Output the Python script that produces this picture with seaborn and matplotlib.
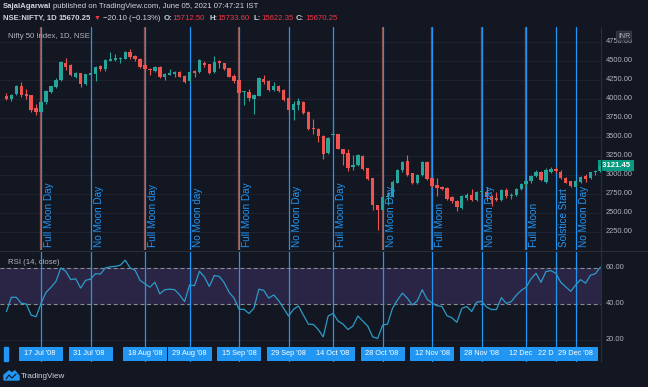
import matplotlib
matplotlib.use("Agg")
import matplotlib.pyplot as plt
import matplotlib.patches as mpatches
import matplotlib.transforms as mtrans
import numpy as np
import seaborn as sns

# ---------------- data ----------------
opens = [4040, 4000, 4060, 4174, 4065, 4052, 3878, 3826, 3957, 4096,
         4152, 4252, 4478, 4443, 4283, 4339, 4196, 4322, 4326, 4435,
         4391, 4504, 4513, 4530, 4530, 4622, 4565, 4530, 4443, 4400,
         4370, 4422, 4283, 4322, 4335, 4356, 4304, 4239, 4370, 4356,
         4478, 4457, 4356, 4500, 4470, 4404, 4304, 4248, 4087, 4096,
         4000, 4043, 4261, 4239, 4122, 4174, 4122, 4009, 3857, 3926,
         3965, 3835, 3622, 3600, 3510, 3290, 3522, 3543, 3348, 3283,
         3109, 3130, 3252, 3087, 2957, 2600, 2543, 2709, 2713, 2900,
         3065, 3183, 3022, 2900, 3000, 3174, 2957, 2870, 2839, 2826,
         2704, 2661, 2565, 2696, 2739, 2674, 2770, 2774, 2704, 2696,
         2674, 2800, 2720, 2740, 2820, 2880, 2920, 2990, 3044, 2912,
         3044, 3075, 3044, 2965, 2921, 2846, 2912, 2987, 2956, 3035,
         3050]
highs = [4080, 4070, 4190, 4226, 4130, 4052, 3935, 3965, 4122, 4174,
         4274, 4500, 4543, 4457, 4361, 4348, 4335, 4348, 4435, 4448,
         4522, 4617, 4587, 4556, 4630, 4652, 4578, 4539, 4452, 4409,
         4435, 4435, 4348, 4400, 4365, 4370, 4313, 4370, 4383, 4530,
         4500, 4465, 4565, 4513, 4478, 4413, 4335, 4252, 4109, 4130,
         4065, 4283, 4313, 4248, 4226, 4183, 4130, 4022, 3978, 4009,
         3978, 3848, 3739, 3620, 3520, 3500, 3739, 3543, 3348, 3348,
         3261, 3270, 3261, 3090, 2960, 2609, 2717, 2780, 2935, 3078,
         3183, 3261, 3030, 3009, 3183, 3183, 2965, 2957, 2857, 2839,
         2717, 2674, 2739, 2761, 2817, 2783, 2791, 2848, 2739, 2774,
         2815, 2830, 2760, 2830, 2900, 2940, 3000, 3060, 3050, 3088,
         3110, 3100, 3060, 2970, 2925, 2930, 2990, 3013, 3040, 3066,
         3130]
lows = [3985, 3975, 4050, 4022, 4000, 3835, 3791, 3817, 3935, 4078,
        4139, 4239, 4383, 4296, 4274, 4161, 4183, 4313, 4230, 4370,
        4370, 4500, 4500, 4470, 4522, 4530, 4500, 4413, 4370, 4317,
        4357, 4274, 4248, 4313, 4283, 4283, 4204, 4226, 4283, 4348,
        4426, 4335, 4348, 4413, 4383, 4283, 4204, 3957, 3926, 3978,
        3804, 4035, 4196, 4109, 4109, 4087, 3970, 3783, 3717, 3861,
        3804, 3587, 3543, 3440, 3210, 3280, 3510, 3339, 3130, 3052,
        3065, 3120, 3065, 2935, 2545, 2270, 2530, 2600, 2704, 2891,
        3043, 2991, 2883, 2883, 2991, 2935, 2839, 2717, 2804, 2674,
        2630, 2522, 2557, 2674, 2652, 2661, 2761, 2661, 2587, 2652,
        2660, 2700, 2680, 2720, 2800, 2840, 2900, 2970, 2920, 2890,
        3031, 3030, 2950, 2890, 2840, 2840, 2900, 2912, 2950, 3000,
        3040]
closes = [4000, 4055, 4170, 4052, 4043, 3861, 3826, 3957, 4109, 4165,
          4252, 4487, 4426, 4313, 4339, 4196, 4326, 4339, 4422, 4400,
          4509, 4522, 4535, 4543, 4622, 4552, 4530, 4426, 4391, 4378,
          4422, 4283, 4335, 4339, 4356, 4291, 4217, 4361, 4348, 4513,
          4443, 4348, 4487, 4470, 4391, 4291, 4230, 4078, 4100, 4009,
          4052, 4270, 4217, 4122, 4174, 4100, 3987, 3857, 3935, 3970,
          3817, 3609, 3609, 3513, 3280, 3490, 3543, 3348, 3270, 3087,
          3130, 3261, 3074, 2948, 2600, 2543, 2709, 2717, 2913, 3065,
          3165, 3000, 2900, 3000, 3174, 2948, 2857, 2826, 2817, 2687,
          2652, 2574, 2717, 2739, 2674, 2774, 2783, 2709, 2674, 2674,
          2804, 2720, 2740, 2820, 2880, 2920, 2990, 3044, 2934, 3066,
          3075, 3050, 2956, 2900, 2855, 2921, 2978, 2943, 3035, 3048,
          3121.45]
rsi = [35.7, 43.7, 43.7, 40.4, 40.0, 33.8, 32.9, 40.4, 46.4, 49.2,
       52.5, 60.0, 58.1, 53.5, 54.0, 48.8, 53.1, 53.8, 56.8, 56.6,
       60.0, 60.6, 60.9, 61.5, 64.3, 60.0, 58.7, 53.1, 51.2, 49.3,
       52.1, 45.6, 47.9, 48.2, 47.9, 45.0, 41.3, 50.5, 50.2, 58.1,
       55.0, 49.7, 55.8, 55.3, 51.8, 46.4, 43.2, 37.0, 37.0, 34.7,
       37.6, 48.2, 47.5, 43.2, 45.0, 41.9, 37.6, 33.3, 37.0, 38.9,
       33.8, 28.8, 28.6, 25.8, 21.7, 33.3, 34.8, 30.5, 28.8, 25.8,
       27.7, 33.3, 30.5, 27.7, 21.7, 20.8, 28.2, 28.8, 37.6, 42.2,
       46.0, 43.2, 39.4, 41.7, 47.9, 42.6, 40.5, 39.0, 38.6, 33.5,
       32.3, 29.8, 37.5, 38.6, 35.8, 41.0, 41.5, 38.3, 36.9, 36.9,
       43.5, 40.3, 41.3, 44.8, 47.5, 49.3, 54.0, 57.0, 52.0, 58.0,
       58.5, 57.0, 52.0, 49.5, 47.0, 50.5, 53.5, 51.5, 56.0, 56.8,
       60.5]

line_bars = [7, 17, 28, 37, 47, 57, 66, 76, 86, 96, 105, 111, 115]
line_notes = ["Full Moon Day", "No Moon Day", "Full Moon day", "No Moon day",
              "Full Moon Day", "No Moon Day", "Full Moon Day", "No Moon Day",
              "Full Moon", "No Moon Day", "Full Moon", "Solstice Start",
              "No Moon Day"]
# the 12 Dec and 22 Dec labels are cut off by the next label in the screenshot
line_dates = ["17 Jul '08", "31 Jul '08", "18 Aug '08", "29 Aug '08",
              "15 Sep '08", "29 Sep '08", "14 Oct '08", "28 Oct '08",
              "12 Nov '08", "28 Nov '08", "12 Dec", "22 D",
              "29 Dec '08"]
red_edge = [7, 28, 47, 76, 86, 96, 105]

price_ticks = [2250, 2500, 2750, 3000, 3250, 3500, 3750, 4000, 4250, 4500, 4750]
rsi_ticks = [20, 40, 60]
last_price = 3121.45

# ---------------- style ----------------
BG = "#131722"
GRID = "#1f2330"
TXT = "#b2b5be"
UP = "#26a69a"
DOWN = "#ef5350"
BLUE = "#2196f3"

sns.set_theme(style="dark", rc={"axes.facecolor": BG, "figure.facecolor": BG})
plt.rcParams["font.family"] = ["Liberation Sans", "DejaVu Sans"]

W, H = 648, 387
fig = plt.figure(figsize=(W / 100, H / 100), dpi=100)
fig.patch.set_facecolor(BG)


def px_axes(left, top, right, bottom):
    a = fig.add_axes([left / W, 1 - bottom / H, (right - left) / W, (bottom - top) / H])
    a.set_facecolor(BG)
    for s in a.spines.values():
        s.set_visible(False)
    a.set_xticks([])
    a.set_yticks([])
    a.grid(False)
    return a


X_RIGHT = 601
BAR_PX = 4.95
X0_PX = 6.4
xlim = (-X0_PX / BAR_PX, (X_RIGHT - X0_PX) / BAR_PX)

ax_p = px_axes(0, 27, X_RIGHT, 250)
ax_r = px_axes(0, 251, X_RIGHT, 345)
ax_t = px_axes(0, 345, X_RIGHT, 362)
for a in (ax_p, ax_r, ax_t):
    a.set_xlim(*xlim)
ax_p.set_ylim(2013, 4947)
ax_r.set_ylim(17.2, 69.4)
ax_t.set_ylim(0, 1)

idx = np.arange(len(closes))
o = np.array(opens, float)
h = np.array(highs, float)
l = np.array(lows, float)
c = np.array(closes, float)

# grid
for p in price_ticks:
    ax_p.axhline(p, color=GRID, lw=0.7, zorder=0)
for r in rsi_ticks:
    ax_r.axhline(r, color=GRID, lw=0.7, zorder=0)

# vertical event lines
for b in line_bars:
    if b in red_edge:
        ax_p.axvline(b - 0.14, color="#9a4a3a", lw=0.9, zorder=1)
    for a in (ax_p, ax_r, ax_t):
        a.axvline(b, color=BLUE, lw=0.9, zorder=2)

# candles
cols = np.where(c >= o, UP, DOWN)
ax_p.vlines(idx, l, h, colors=cols, lw=0.8, zorder=3)
body = np.where(np.abs(c - o) < 9, 9, np.abs(c - o))
ax_p.bar(idx, body, bottom=np.minimum(o, c), width=0.68, color=cols, lw=0, zorder=4)

# event notes
shift = mtrans.ScaledTranslation(3 / 100, 0, fig.dpi_scale_trans)
note_tr = mtrans.blended_transform_factory(ax_p.transData, ax_p.transAxes) + shift
for b, n in zip(line_bars, line_notes):
    ax_p.text(b, 0.012, n, rotation=90, ha="left", va="bottom", color=BLUE,
              fontsize=7.2, transform=note_tr, zorder=5)

ax_p.text(8 / X_RIGHT, 1 - 10 / 223, "Nifty 50 Index, 1D, NSE", transform=ax_p.transAxes,
          color=TXT, fontsize=5.6, va="center", ha="left")

# RSI pane
ax_r.axhspan(40, 60, color="#7e57c2", alpha=0.22, lw=0, zorder=0)
for r in (40, 60):
    ax_r.axhline(r, color="#8a8d96", lw=0.8, ls=(0, (3.5, 2.5)), zorder=1)
sns.lineplot(x=idx, y=rsi, ax=ax_r, color="#2b9bc8", lw=0.9, zorder=6)
ax_r.set_xlabel("")
ax_r.set_ylabel("")
ax_r.set_xlim(*xlim)
ax_r.set_ylim(17.2, 69.4)
ax_r.set_xticks([])
ax_r.set_yticks([])
ax_r.text(8 / X_RIGHT, 1 - 11 / 94, "RSI (14, close)", transform=ax_r.transAxes,
          color=TXT, fontsize=5.6, va="center", ha="left")

# price scale
sep_p = mtrans.blended_transform_factory(ax_p.transAxes, ax_p.transData)
for p in price_ticks:
    ax_p.text(606 / X_RIGHT, p, f"{p:.2f}", transform=sep_p, color=TXT,
              fontsize=5.4, va="center", ha="left", clip_on=False)
sep_r = mtrans.blended_transform_factory(ax_r.transAxes, ax_r.transData)
for r in rsi_ticks:
    ax_r.text(606 / X_RIGHT, r, f"{r:.2f}", transform=sep_r, color=TXT,
              fontsize=5.4, va="center", ha="left", clip_on=False)

# last price badge
ax_p.text(600 / X_RIGHT, last_price, f" {last_price:.2f} ", transform=sep_p, color="white",
          fontsize=5.6, va="center", ha="left", clip_on=False, fontweight="bold",
          bbox=dict(boxstyle="square,pad=0.25", fc="#089981", ec="none"))
ax_p.text(618 / X_RIGHT, 1 - 9 / 223, "INR", transform=ax_p.transAxes, color=TXT,
          fontsize=5, va="center", ha="left", clip_on=False,
          bbox=dict(boxstyle="round,pad=0.2", fc="#2a2e39", ec="#434651", lw=0.5))

# separators
fig.add_artist(plt.Line2D([0, 1], [1 - 250.5 / H] * 2, color="#2a2e39", lw=0.8))
fig.add_artist(plt.Line2D([X_RIGHT / W] * 2, [1 - 362 / H, 1 - 27 / H], color="#2a2e39", lw=0.8))

# time-axis labels (text starts ~17.5 px left of its line, like the full-length labels)
lab_shift = mtrans.ScaledTranslation(-17.5 / 100, 0, fig.dpi_scale_trans)
lab_tr = ax_t.transData + lab_shift
for k, (b, d) in enumerate(zip(line_bars, line_dates)):
    ax_t.bar(b, 0.82, bottom=0.08, width=44 / BAR_PX, color=BLUE, lw=0, zorder=10 + 2 * k)
    ax_t.text(b, 0.49, d, color="white", fontsize=5.3, ha="left", va="center",
              transform=lab_tr, zorder=11 + 2 * k)
fig.add_artist(mpatches.Rectangle((4 / W, 1 - 361 / H), 4 / W, 14 / H, color=BLUE,
                                  transform=fig.transFigure))

# header
def head(x, y, s, color="#d1d4dc", bold=False, size=5.6):
    fig.text(x / W, 1 - y / H, s, color=color, fontsize=size, va="center", ha="left",
             fontweight="bold" if bold else "normal")

RED = "#f23645"
head(3, 7, "SajalAgarwal", bold=True)
head(53, 7, "published on TradingView.com, June 05, 2021 07:47:21 IST")
head(3, 18, "NSE:NIFTY, 1D", bold=True)
head(59, 18, "15670.25", bold=True)
head(94, 18, "▼", color=RED, size=5)
head(103, 18, "−20.10 (−0.13%)")
head(164, 18, "O:", bold=True)
head(172, 18, "15712.50", color=RED)
head(209, 18, "H:", bold=True)
head(217, 18, "15733.60", color=RED)
head(254, 18, "L:", bold=True)
head(261, 18, "15622.35", color=RED)
head(296, 18, "C:", bold=True)
head(305, 18, "15670.25", color=RED)

# TradingView logo
logo = np.array([[4, 380], [4, 375], [9, 371], [12, 373], [15, 371], [19, 376], [19, 380]])
fig.add_artist(mpatches.Polygon(np.c_[logo[:, 0] / W, 1 - logo[:, 1] / H], closed=True,
                                color=BLUE, transform=fig.transFigure))
zig = np.array([[6, 379], [9, 375], [12, 378], [16, 374]])
fig.add_artist(plt.Line2D(zig[:, 0] / W, 1 - zig[:, 1] / H, color=BG, lw=0.8))
head(21, 376, "TradingView", size=5.8)

fig.savefig("out.png", dpi=100, facecolor=BG)
